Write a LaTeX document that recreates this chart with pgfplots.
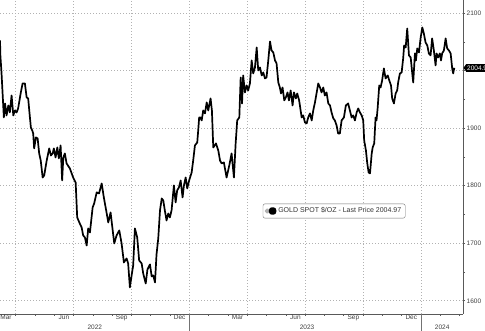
\documentclass[border=0pt]{standalone}
\usepackage{pgfplots}
\pgfplotsset{compat=1.18}
\usepackage{fontspec}
\setmainfont{Liberation Sans}
\begin{document}
\begin{tikzpicture}[x=1pt,y=1pt]
\begin{axis}[
  scale only axis, width=463pt, height=314pt,
  xmin=2.19, xmax=26.18, ymin=1577, ymax=2123,
  enlargelimits=false, clip=false,
  axis x line*=bottom, axis y line*=right,
  axis line style={-, draw=black!65, line width=0.7pt},
  xtick={3,6,...,24},
  xticklabels={},
  minor xtick={3,4,...,26},
  extra x ticks={2.5,5.5,...,23.5},
  extra x tick labels={Mar,Jun,Sep,Dec,Mar,Jun,Sep,Dec},
  extra x tick style={major tick length=0pt, grid=none},
  ytick={1600,1700,...,2100},
  yticklabels={1600,1700,1800,1900,,2100},
  minor ytick={1650,1750,...,2050},
  xmajorgrids, ymajorgrids,
  major grid style={dash pattern=on 0.9pt off 2.1pt, draw=black!30, line width=0.7pt},
  tick align=outside,
  major tick length=2pt, minor tick length=2pt,
  tick style={draw=black!65, line width=0.6pt},
  ticklabel style={font=\fontsize{6.5}{7}\selectfont, text=black!75},
  xticklabel style={inner sep=0.5pt},
  yticklabel style={inner sep=1.5pt},
  /pgf/number format/assume math mode=true,
  scaled y ticks=false,
  legend style={at={(0.7216,0.328)}, anchor=center, draw=black!55, rounded corners=2pt,
    font=\fontsize{7}{8}\selectfont, text=black!80, inner xsep=2pt, inner ysep=1.8pt, row sep=0pt},
  legend cell align=left,
  legend image code/.code={\fill[black!30] (0pt,-1.5pt) rectangle (3pt,1.5pt); \fill[black] (4pt,-2.8pt) rectangle (9.6pt,2.8pt);},
]
\addplot[black, line width=1.7pt, line join=round]
coordinates {
(2.19,2052.7)(2.21,2026.6)(2.27,1995.3)(2.39,1918.8)(2.45,1943.1)(2.53,1922.3)(2.62,1939.6)
(2.70,1927.5)(2.79,1957.0)(2.88,1922.3)(2.96,1930.9)(3.05,1927.5)(3.13,1934.4)(3.26,1960.5)
(3.36,1977.9)(3.48,1977.9)(3.57,1953.6)(3.65,1951.8)(3.74,1918.8)(3.79,1901.4)(3.86,1896.2)
(3.91,1890.9)(3.96,1864.9)(4.05,1884.0)(4.14,1882.3)(4.22,1856.2)(4.30,1844.0)(4.40,1814.4)
(4.48,1817.9)(4.61,1844.0)(4.74,1864.9)(4.83,1852.7)(4.92,1856.2)(4.98,1864.9)(5.07,1849.2)
(5.16,1866.6)(5.24,1847.5)(5.33,1870.1)(5.41,1809.2)(5.47,1849.2)(5.55,1856.2)(5.64,1838.8)
(5.81,1830.1)(5.98,1814.4)(6.11,1805.7)(6.19,1744.9)(6.30,1736.2)(6.42,1727.5)(6.50,1713.6)
(6.59,1710.1)(6.68,1696.2)(6.76,1725.8)(6.85,1718.8)(6.99,1762.3)(7.07,1769.3)(7.20,1788.4)
(7.32,1786.6)(7.46,1804.0)(7.57,1779.7)(7.71,1753.6)(7.80,1736.2)(7.92,1753.6)(8.03,1722.3)
(8.11,1699.7)(8.23,1713.6)(8.37,1722.3)(8.49,1699.7)(8.61,1666.6)(8.75,1673.6)(8.83,1664.9)
(8.92,1623.2)(9.01,1644.1)(9.09,1661.4)(9.18,1725.8)(9.30,1710.1)(9.40,1670.1)(9.53,1664.9)
(9.61,1647.5)(9.74,1630.1)(9.83,1654.4)(9.96,1663.2)(10.05,1642.3)(10.13,1644.1)(10.22,1631.9)
(10.30,1680.5)(10.39,1708.4)(10.48,1757.1)(10.57,1777.9)(10.65,1774.5)(10.73,1757.1)(10.82,1739.7)
(10.91,1751.8)(10.99,1744.9)(11.08,1757.1)(11.20,1800.5)(11.29,1771.0)(11.37,1791.8)(11.46,1797.1)
(11.55,1809.2)(11.65,1779.7)(11.72,1800.5)(11.81,1814.4)(11.89,1795.3)(11.99,1809.2)(12.12,1823.1)
(12.20,1844.0)(12.29,1870.1)(12.41,1875.3)(12.46,1896.2)(12.51,1918.8)(12.57,1918.8)(12.64,1913.6)
(12.72,1930.9)(12.81,1925.8)(12.90,1944.9)(12.98,1930.9)(13.10,1951.8)(13.17,1930.9)(13.24,1866.6)
(13.38,1873.6)(13.50,1861.4)(13.59,1844.0)(13.67,1838.8)(13.79,1840.5)(13.93,1814.4)(14.07,1835.3)
(14.19,1856.2)(14.31,1814.4)(14.40,1873.6)(14.48,1913.6)(14.59,1918.8)(14.66,1988.3)(14.73,1943.1)
(14.79,1991.8)(14.88,1962.3)(14.97,1974.4)(15.05,1965.7)(15.14,1977.9)(15.23,2017.9)(15.31,1995.3)
(15.40,2005.7)(15.49,2040.5)(15.57,2000.5)(15.66,2005.7)(15.75,1991.8)(15.83,1997.0)(15.92,1986.6)
(16.00,1988.3)(16.09,2017.9)(16.18,2050.9)(16.26,2035.3)(16.35,2031.8)(16.44,2017.9)(16.52,2012.7)
(16.61,1979.6)(16.69,1970.9)(16.75,1960.5)(16.83,1970.9)(16.92,1948.4)(17.00,1953.6)(17.09,1962.3)
(17.16,1948.4)(17.25,1965.7)(17.35,1939.6)(17.42,1962.3)(17.52,1951.8)(17.59,1960.5)(17.69,1948.4)
(17.82,1918.8)(17.90,1922.3)(17.99,1910.1)(18.08,1908.4)(18.16,1918.8)(18.25,1925.8)(18.34,1913.6)
(18.42,1930.9)(18.51,1944.9)(18.60,1962.3)(18.68,1977.9)(18.77,1970.9)(18.85,1962.3)(18.94,1970.9)
(19.02,1957.0)(19.11,1962.3)(19.20,1943.1)(19.29,1939.6)(19.37,1927.5)(19.46,1917.1)(19.54,1913.6)
(19.63,1904.9)(19.71,1890.9)(19.80,1890.9)(19.89,1913.6)(20.01,1918.8)(20.11,1939.6)(20.23,1943.1)
(20.32,1930.9)(20.41,1918.8)(20.49,1922.3)(20.58,1913.6)(20.67,1927.5)(20.75,1934.4)(20.84,1927.5)
(20.93,1922.3)(21.01,1913.6)(21.06,1878.8)(21.15,1861.4)(21.22,1838.8)(21.29,1823.1)(21.36,1821.4)
(21.45,1856.2)(21.50,1866.6)(21.58,1873.6)(21.65,1918.8)(21.70,1913.6)(21.76,1936.2)(21.84,1974.4)
(21.91,1970.9)(21.99,1983.1)(22.08,2004.0)(22.17,1986.6)(22.28,1991.8)(22.36,1983.1)(22.45,1974.4)
(22.51,1951.8)(22.60,1943.1)(22.69,1960.5)(22.77,1965.7)(22.82,1979.6)(22.91,1995.3)(23.00,1997.0)
(23.08,2021.4)(23.13,2044.0)(23.21,2040.5)(23.29,2073.5)(23.38,2026.6)(23.47,2023.1)(23.55,1995.3)
(23.60,1979.6)(23.69,2030.1)(23.74,2017.9)(23.81,2038.8)(23.90,2031.8)(23.98,2056.2)(24.07,2075.3)
(24.15,2064.9)(24.24,2049.2)(24.33,2044.0)(24.41,2030.1)(24.50,2026.6)(24.58,2056.2)(24.67,2035.3)
(24.76,2009.2)(24.81,2030.1)(24.89,2023.1)(24.98,2030.1)(25.04,2017.9)(25.10,2030.1)(25.19,2035.3)
(25.28,2056.2)(25.36,2038.8)(25.45,2035.3)(25.54,2030.1)(25.62,2004.0)(25.67,1995.3)(25.73,2005.0)
};
\addlegendentry{GOLD SPOT \$/OZ - Last Price 2004.97}
\coordinate (bl) at (rel axis cs:0,0);
\coordinate (tr) at (rel axis cs:1,1);
% year separators and labels
\draw[black!55, line width=0.6pt] (axis cs:12,1577) -- ++(0pt,-17pt);
\draw[black!55, line width=0.6pt] (axis cs:24,1577) -- ++(0pt,-17pt);
\node[font=\fontsize{6.5}{7}\selectfont, text=black!75] at ([yshift=-13pt]axis cs:7.1,1577) {2022};
\node[font=\fontsize{6.5}{7}\selectfont, text=black!75] at ([yshift=-13pt]axis cs:18.1,1577) {2023};
\node[font=\fontsize{6.5}{7}\selectfont, text=black!75] at ([yshift=-13pt]axis cs:25.1,1577) {2024};
% last price tag
\node[fill=black, text=white, anchor=west, inner xsep=1.5pt, inner ysep=1.6pt,
  font=\fontsize{6.5}{7}\selectfont] at ([xshift=2.5pt]axis cs:26.18,2005) {2004.97};
\fill[black] ([xshift=0.5pt]axis cs:26.18,2005) -- ++(2.5pt,3.5pt) -- ++(0pt,-7pt) -- cycle;
\end{axis}
\pgfresetboundingbox
\path[use as bounding box] ([yshift=-17pt]bl) rectangle ([xshift=22pt]tr);
\end{tikzpicture}
\end{document}
